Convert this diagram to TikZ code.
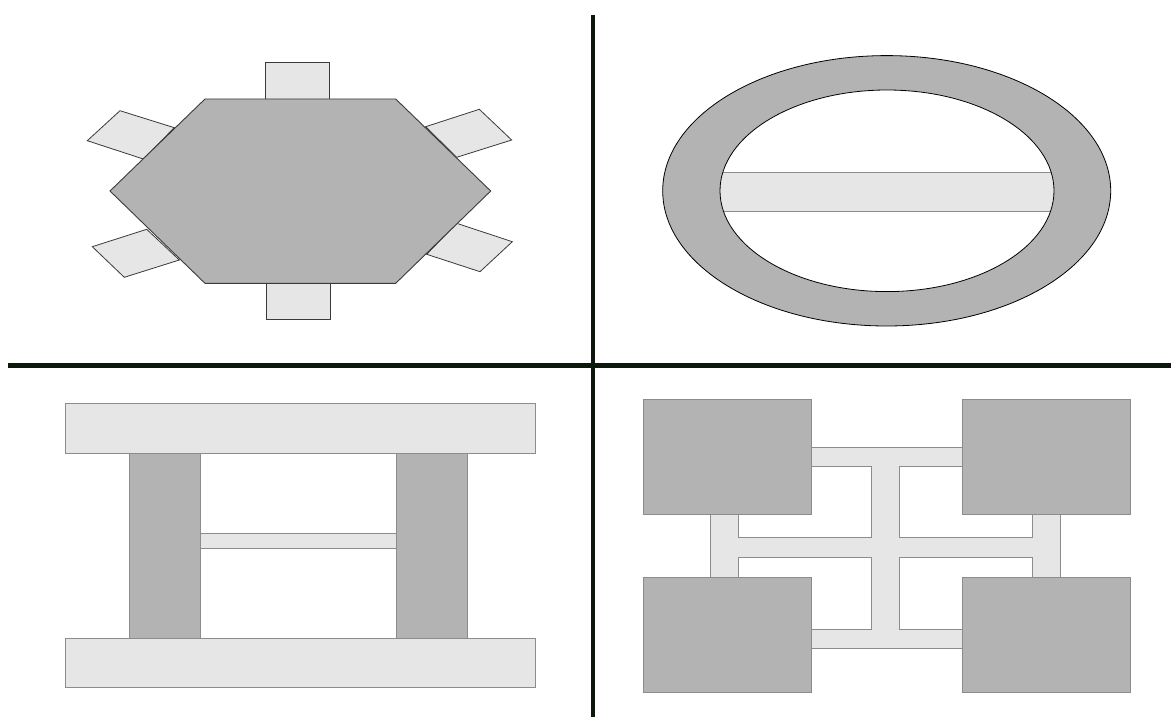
\documentclass[tikz,border=0pt]{standalone}
\usetikzlibrary{calc}
\definecolor{dark}{HTML}{B3B3B3}
\definecolor{light}{HTML}{E6E6E6}
\definecolor{edge}{HTML}{3A3A3A}
\definecolor{soft}{HTML}{8C8C8C}
\definecolor{divider}{HTML}{0C180C}
\tikzset{
  chair/.style={fill=light,draw=edge,line width=0.8pt},
  tabletop/.style={fill=dark,draw=edge,line width=0.9pt},
  plank/.style={fill=light,draw=soft,line width=0.8pt},
  post/.style={fill=dark,draw=soft,line width=0.8pt},
  divline/.style={draw=divider,line width=4.5pt}
}
\begin{document}
\begin{tikzpicture}[x=1pt,y=-1pt]
\useasboundingbox[fill=white] (0,0) rectangle (1171,717);
% dividers
\coordinate (vt) at (593,15);
\coordinate (vb) at (593,717);
\coordinate (hl) at (8,365.5);
\coordinate (hr) at (1171,365.5);
\draw[divline] (vt) -- (vb);
\draw[divline] (hl) -- (hr);

% ---- top-left: hexagonal table with chairs
\draw[chair] (265.7,62.3) rectangle (329.3,99.5);
\draw[chair] (266.7,283) rectangle (330.7,319.3);
\draw[chair] (120,110.7) -- (87.3,140.7) -- (143.3,159) -- (174.3,127.7) -- cycle;
\draw[chair] (479.3,109.3) -- (511.7,140) -- (456.7,157.3) -- (425.7,126.7) -- cycle;
\draw[chair] (92.3,246.7) -- (124.3,277.3) -- (179.3,260) -- (146.7,229.3) -- cycle;
\draw[chair] (426.7,254.3) -- (480,271.7) -- (512.3,241.7) -- (456.7,223.3) -- cycle;
\draw[tabletop] (205,99) -- (395.7,99) -- (490.7,191) -- (395.7,283.3) -- (205,283.3) -- (110,191) -- cycle;

% ---- top-right: ring with bar
\draw[fill=dark,draw=black,line width=0.8pt] (886.7,190.8) ellipse [x radius=224, y radius=135.2];
\fill[white] (887,190.8) ellipse [x radius=167, y radius=100.8];
\begin{scope}
  \clip (887,190.8) ellipse [x radius=167, y radius=100.8];
  \draw[fill=light,draw=soft,line width=0.8pt] (700,172) rectangle (1075,211);
\end{scope}
\draw[draw=black,line width=0.8pt] (887,190.8) ellipse [x radius=167, y radius=100.8];

% ---- bottom-left: planks and posts
\draw[post] (129.3,453.3) rectangle (200,638.3);
\draw[post] (396.7,453.3) rectangle (467.3,638.3);
\draw[plank] (200,533.7) rectangle (396.7,548.7);
\draw[plank] (65,403.3) rectangle (535.7,453.3);
\draw[plank] (65,638.3) rectangle (535.7,687.7);

% ---- bottom-right: four blocks joined by a frame
\draw[plank] (811.7,447.3) -- (962.3,447.3) -- (962.3,466) -- (899.3,466) -- (899.3,537.7)
  -- (1032.7,537.7) -- (1032.7,514.3) -- (1060.3,514.3) -- (1060.3,577.7) -- (1032.7,577.7)
  -- (1032.7,557.3) -- (899.3,557.3) -- (899.3,629.3) -- (962.3,629.3) -- (962.3,648.7)
  -- (811.7,648.7) -- (811.7,629.3) -- (871.7,629.3) -- (871.7,557.3) -- (738.3,557.3)
  -- (738.3,577.7) -- (710.7,577.7) -- (710.7,514.3) -- (738.3,514.3) -- (738.3,537.7)
  -- (871.7,537.7) -- (871.7,466) -- (811.7,466) -- cycle;
\draw[post] (643.3,399) rectangle (811.7,514.3);
\draw[post] (962.3,399) rectangle (1130.7,514.3);
\draw[post] (643.3,577.7) rectangle (811.7,692.7);
\draw[post] (962.3,577.7) rectangle (1130.7,692.7);
\end{tikzpicture}
\end{document}
